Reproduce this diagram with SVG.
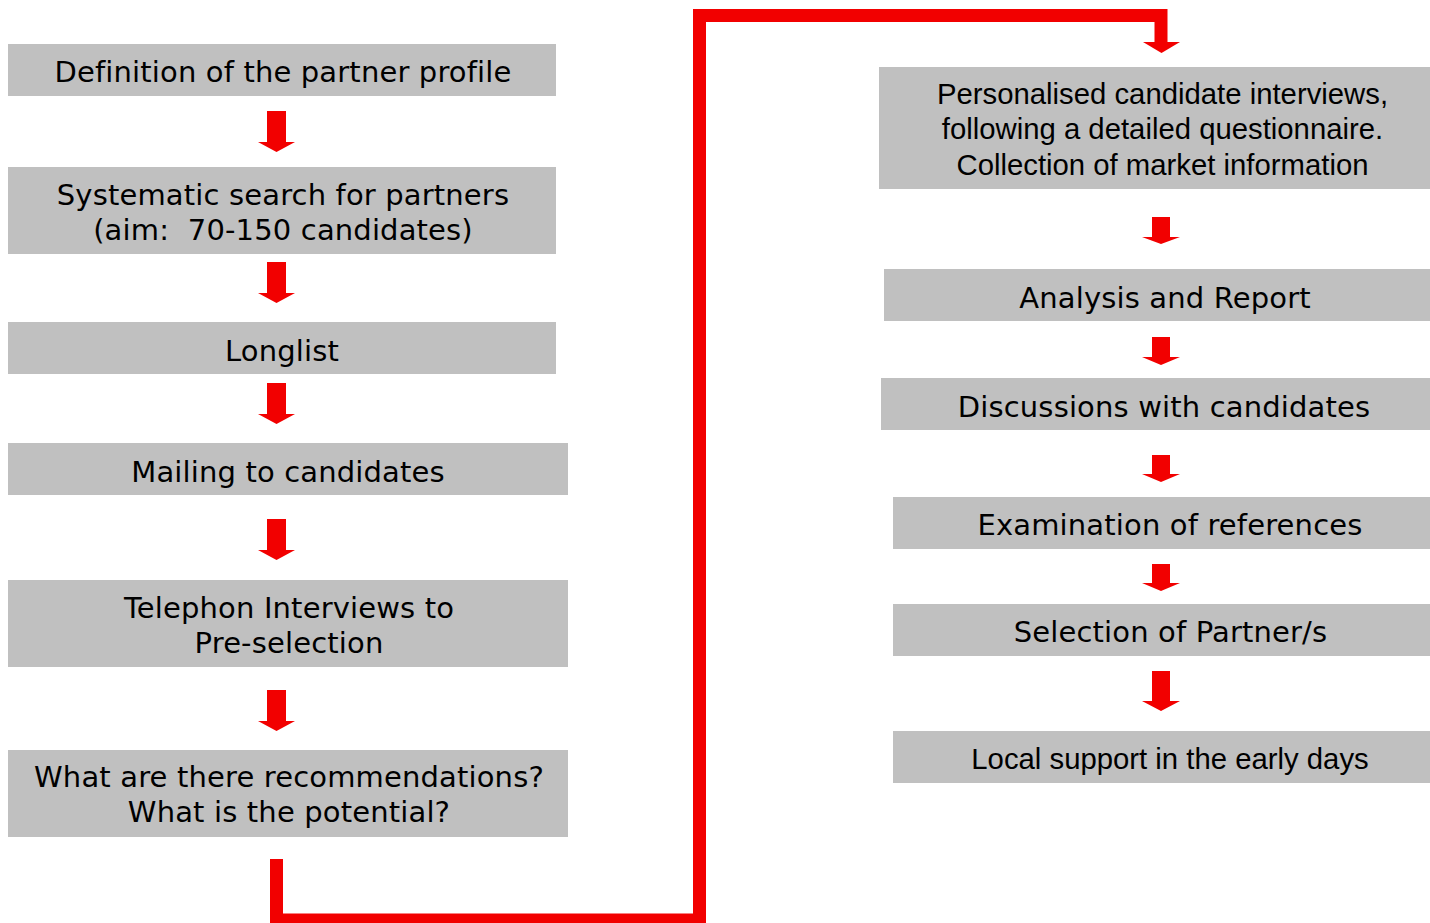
<svg xmlns="http://www.w3.org/2000/svg" width="1430" height="923" viewBox="0 0 1430 923">
  <style>
    .box { fill: #c0c0c0; }
    .v { font-family: "DejaVu Sans", Verdana, sans-serif; font-size: 29px; letter-spacing: 0.15px; fill: #000; text-anchor: middle; }
    .a { font-family: "Liberation Sans", Arial, sans-serif; font-size: 29.3px; fill: #000; text-anchor: middle; }
    .arrow { fill: #f20000; }
    .route { fill: none; stroke: #f20000; stroke-width: 13; stroke-linejoin: miter; }
  </style>
  <rect width="1430" height="923" fill="#ffffff"/>

  <!-- left column -->
  <g id="n1"><rect class="box" x="8" y="44" width="548" height="52"/>
    <text class="v" x="283" y="82">Definition of the partner profile</text></g>
  <g id="n2"><rect class="box" x="8" y="167" width="548" height="87"/>
    <text class="v" x="283" y="205">Systematic search for partners</text>
    <text class="v" x="283" y="240" xml:space="preserve">(aim:  70-150 candidates)</text></g>
  <g id="n3"><rect class="box" x="8" y="322" width="548" height="52"/>
    <text class="v" x="282" y="361">Longlist</text></g>
  <g id="n4"><rect class="box" x="8" y="443" width="560" height="52"/>
    <text class="v" x="288" y="482">Mailing to candidates</text></g>
  <g id="n5"><rect class="box" x="8" y="580" width="560" height="87"/>
    <text class="v" x="289" y="618">Telephon Interviews to</text>
    <text class="v" x="289" y="653">Pre-selection</text></g>
  <g id="n6"><rect class="box" x="8" y="750" width="560" height="87"/>
    <text class="v" x="289" y="787">What are there recommendations?</text>
    <text class="v" x="289" y="822">What is the potential?</text></g>

  <!-- right column -->
  <g id="n7"><rect class="box" x="879" y="67" width="566" height="122"/>
    <text class="a" x="1162.5" y="104">Personalised candidate interviews,</text>
    <text class="a" x="1162.5" y="139">following a detailed questionnaire.</text>
    <text class="a" x="1162.5" y="175">Collection of market information</text></g>
  <g id="n8"><rect class="box" x="884" y="269" width="566" height="52"/>
    <text class="v" x="1165" y="308">Analysis and Report</text></g>
  <g id="n9"><rect class="box" x="881" y="378" width="566" height="52"/>
    <text class="v" x="1164" y="417">Discussions with candidates</text></g>
  <g id="n10"><rect class="box" x="893" y="497" width="560" height="52"/>
    <text class="v" x="1170" y="535">Examination of references</text></g>
  <g id="n11"><rect class="box" x="893" y="604" width="560" height="52"/>
    <text class="v" x="1170.5" y="642">Selection of Partner/s</text></g>
  <g id="n12"><rect class="box" x="893" y="731" width="560" height="52"/>
    <text class="a" x="1170" y="769">Local support in the early days</text></g>

  <!-- connectors -->
  <g id="connectors">
    <polygon class="arrow" points="267,111 286,111 286,142 295,142 276.5,152 258,142 267,142"/>
    <polygon class="arrow" points="267,262 286,262 286,293 295,293 276.5,303 258,293 267,293"/>
    <polygon class="arrow" points="267,383 286,383 286,414 295,414 276.5,424 258,414 267,414"/>
    <polygon class="arrow" points="267,519 286,519 286,550 295,550 276.5,560 258,550 267,550"/>
    <polygon class="arrow" points="267,690 286,690 286,721 295,721 276.5,731 258,721 267,721"/>

    <polyline class="route" points="276.5,859 276.5,920 699.5,920 699.5,15.5 1161,15.5 1161,43"/>
    <polygon class="arrow" points="1143,42 1180,42 1161.5,53"/>

    <polygon class="arrow" points="1152,217 1170,217 1170,237 1180,237 1161,244 1142,237 1152,237"/>
    <polygon class="arrow" points="1152,337 1170,337 1170,357 1180,357 1161,365 1142,357 1152,357"/>
    <polygon class="arrow" points="1152,455 1170,455 1170,474 1180,474 1161,482 1142,474 1152,474"/>
    <polygon class="arrow" points="1152,564 1170,564 1170,583 1180,583 1161,591 1142,583 1152,583"/>
    <polygon class="arrow" points="1152,671 1170,671 1170,701 1180,701 1161,711 1142,701 1152,701"/>
  </g>
</svg>
